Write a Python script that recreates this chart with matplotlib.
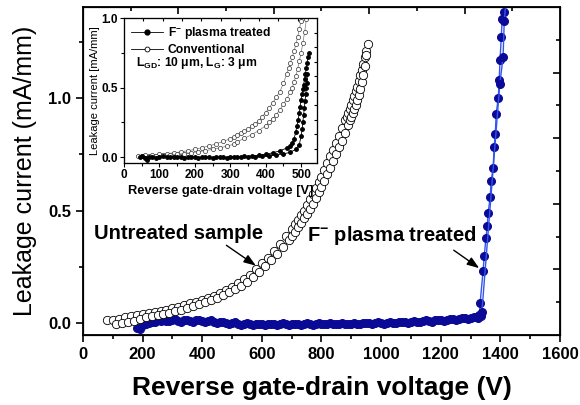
import numpy as np
import matplotlib
matplotlib.use("Agg")
import matplotlib.pyplot as plt

plt.rcParams['font.family'] = ['Liberation Sans', 'DejaVu Sans']
plt.rcParams['mathtext.fontset'] = 'custom'
plt.rcParams['mathtext.rm'] = 'Liberation Sans'
plt.rcParams['mathtext.bf'] = 'Liberation Sans:bold'
plt.rcParams['mathtext.default'] = 'regular'

# ---- main plot data: untreated sample (two sweeps) ----
untr_v1 = [80, 100, 120, 140, 160, 180, 200, 220, 240, 260, 280, 300, 320, 340, 360,
           380, 400, 420, 440, 460, 480, 500, 520, 540, 560, 580, 600, 620, 640, 660,
           680, 700, 710, 720, 730, 740, 750, 760, 770, 780, 790, 800, 810, 820, 830,
           840, 850, 860, 870, 880, 885, 890, 895, 900, 905, 910, 915, 920, 925, 930,
           935, 940, 945, 950, 955]
untr_i1 = [0.012, 0.015, 0.020, 0.025, 0.030, 0.035, 0.040, 0.045, 0.050, 0.055, 0.060,
           0.066, 0.072, 0.080, 0.087, 0.095, 0.103, 0.112, 0.122, 0.133, 0.146, 0.160,
           0.176, 0.195, 0.215, 0.240, 0.265, 0.290, 0.320, 0.350, 0.385, 0.420, 0.440,
           0.460, 0.480, 0.500, 0.525, 0.550, 0.575, 0.600, 0.625, 0.650, 0.680, 0.710,
           0.740, 0.770, 0.800, 0.830, 0.865, 0.900, 0.917, 0.935, 0.952, 0.970, 0.990,
           1.010, 1.030, 1.050, 1.075, 1.100, 1.125, 1.150, 1.180, 1.210, 1.240]
untr_v2 = [110, 130, 150, 170, 190, 210, 230, 250, 270, 290, 310, 330, 350, 370, 390,
           410, 430, 450, 470, 490, 510, 530, 550, 570, 590, 610, 630, 650, 670, 690,
           700, 710, 720, 730, 740, 750, 760, 770, 780, 790, 800, 810, 820, 830, 840,
           850, 860, 870, 880, 890, 895, 900, 905, 910, 915, 920, 925, 930, 935, 940,
           945, 950]
untr_i2 = [-0.005, 0.000, 0.005, 0.010, 0.018, 0.025, 0.030, 0.035, 0.040, 0.046, 0.053,
           0.060, 0.067, 0.075, 0.083, 0.092, 0.101, 0.111, 0.123, 0.136, 0.150, 0.166,
           0.184, 0.205, 0.228, 0.252, 0.278, 0.306, 0.336, 0.370, 0.387, 0.405, 0.425,
           0.445, 0.465, 0.485, 0.508, 0.530, 0.555, 0.580, 0.605, 0.630, 0.660, 0.690,
           0.720, 0.750, 0.780, 0.810, 0.845, 0.880, 0.900, 0.915, 0.932, 0.950, 0.970,
           0.990, 1.015, 1.040, 1.070, 1.100, 1.140, 1.190]

# ---- main plot data: F- plasma treated (two sweeps) ----
trt_v1 = [180, 200, 220, 240, 260, 280, 300, 320, 340, 360, 380, 400, 420, 440, 460,
          480, 500, 520, 540, 560, 580, 600, 620, 640, 660, 680, 700, 720, 740, 760,
          780, 800, 820, 840, 860, 880, 900, 920, 940, 960, 980, 1000, 1020, 1040, 1060,
          1080, 1100, 1120, 1140, 1160, 1180, 1200, 1220, 1240, 1260, 1280, 1300, 1320,
          1330, 1332, 1342, 1346, 1352, 1356, 1359, 1366, 1369, 1376, 1379, 1383, 1386,
          1393, 1396, 1399, 1403, 1406, 1413, 1418]
trt_i1 = [-0.020, -0.008, 0.000, 0.005, 0.010, 0.010, 0.012, 0.010, 0.012, 0.010, 0.012,
          0.008, 0.010, 0.005, 0.004, 0.000, 0.000, -0.004, -0.005, -0.003, -0.005,
          -0.004, -0.006, -0.004, -0.005, -0.004, -0.005, -0.004, -0.003, -0.004, -0.003,
          -0.003, -0.004, -0.003, -0.004, -0.002, -0.003, -0.002, -0.001, 0.000, -0.001,
          0.000, 0.002, 0.001, 0.003, 0.004, 0.005, 0.006, 0.008, 0.010, 0.012, 0.013,
          0.015, 0.017, 0.019, 0.021, 0.024, 0.028, 0.034, 0.089, 0.230, 0.300, 0.380,
          0.430, 0.490, 0.560, 0.630, 0.690, 0.780, 0.840, 0.930, 1.000, 1.080, 1.170,
          1.270, 1.350, 1.380, 1.450]
trt_v2 = [190, 210, 230, 250, 270, 290, 310, 330, 350, 370, 390, 410, 430, 450, 470,
          490, 510, 530, 550, 570, 590, 610, 630, 650, 670, 690, 710, 730, 750, 770,
          790, 810, 830, 850, 870, 890, 910, 930, 950, 970, 990, 1010, 1030, 1050, 1070,
          1090, 1110, 1130, 1150, 1170, 1190, 1210, 1230, 1250, 1270, 1290, 1310, 1325,
          1334, 1338, 1398, 1409, 1413, 1420]
trt_i2 = [-0.025, -0.004, 0.004, 0.012, 0.014, 0.008, 0.016, 0.006, 0.014, 0.006, 0.012,
          0.004, 0.012, 0.000, 0.006, -0.004, 0.004, -0.008, 0.000, -0.008, -0.002,
          -0.009, -0.002, -0.008, -0.001, -0.008, -0.002, -0.007, 0.000, -0.007, 0.000,
          -0.006, 0.000, -0.006, 0.000, -0.005, 0.001, -0.004, 0.002, -0.003, 0.003,
          -0.002, 0.005, 0.000, 0.007, 0.002, 0.009, 0.004, 0.012, 0.007, 0.015, 0.010,
          0.018, 0.014, 0.022, 0.018, 0.026, 0.022, 0.030, 0.050, 1.060, 1.180, 1.340, 1.450]

# ---- inset data ----
conv_v1 = [40, 60, 80, 100, 120, 140, 160, 180, 200, 220, 240, 260, 280, 300, 310, 320,
           330, 340, 350, 360, 370, 380, 390, 400, 410, 420, 430, 440, 450, 460, 465,
           470, 475, 480, 485, 490, 495, 500, 505]
conv_i1 = [0.010, 0.012, 0.016, 0.020, 0.025, 0.030, 0.037, 0.045, 0.055, 0.067, 0.080,
           0.095, 0.112, 0.132, 0.143, 0.155, 0.170, 0.185, 0.200, 0.220, 0.240, 0.260,
           0.290, 0.320, 0.355, 0.390, 0.430, 0.470, 0.530, 0.600, 0.640, 0.680, 0.720,
           0.760, 0.810, 0.860, 0.920, 0.980, 1.050]
conv_v2 = [50, 70, 90, 110, 130, 150, 170, 190, 210, 230, 250, 270, 290, 310, 320, 340,
           360, 380, 400, 410, 420, 430, 440, 450, 460, 470, 475, 480, 485, 490, 495,
           500, 505, 510, 515]
conv_i2 = [0.004, 0.006, 0.009, 0.012, 0.016, 0.020, 0.025, 0.031, 0.038, 0.046, 0.055,
           0.066, 0.078, 0.092, 0.110, 0.135, 0.160, 0.190, 0.225, 0.250, 0.275, 0.305,
           0.340, 0.380, 0.420, 0.470, 0.500, 0.540, 0.580, 0.630, 0.690, 0.750, 0.820,
           0.900, 0.990]
f_v1 = [45, 60, 65, 80, 100, 120, 140, 160, 180, 200, 220, 240, 260, 280, 300, 320, 340,
        360, 380, 400, 420, 440, 460, 470, 475, 480, 485, 488, 492, 495, 497, 500, 502,
        505, 507, 510, 512, 515, 517, 520, 522]
f_i1 = [0.000, -0.010, -0.020, 0.000, 0.002, 0.000, 0.002, 0.000, -0.002, 0.000, -0.003,
        -0.002, -0.003, -0.002, 0.000, 0.002, 0.005, 0.008, 0.012, 0.020, 0.030, 0.045,
        0.065, 0.080, 0.100, 0.130, 0.180, 0.220, 0.270, 0.320, 0.360, 0.410, 0.450,
        0.490, 0.520, 0.560, 0.600, 0.640, 0.680, 0.720, 0.750]
f_v2 = [50, 70, 90, 110, 130, 150, 170, 190, 210, 230, 250, 270, 290, 310, 330, 350, 370,
        390, 410, 430, 450, 470, 485, 495, 500, 503, 505, 507, 509, 511, 513, 515, 516, 518]
f_i2 = [0.005, 0.000, -0.004, 0.004, -0.003, 0.003, -0.004, 0.001, -0.005, -0.002, -0.006,
        -0.003, -0.005, -0.002, -0.003, 0.000, 0.002, 0.004, 0.008, 0.014, 0.022, 0.035,
        0.055, 0.090, 0.150, 0.200, 0.250, 0.300, 0.350, 0.400, 0.450, 0.500, 0.530, 0.600]

fig = plt.figure(figsize=(5.8, 4.05), dpi=100)
ax = fig.add_axes([0.1431, 0.1728, 0.8224, 0.81])

navy = '#0a0a96'
ax.plot(trt_v1, trt_i1, '-o', color='#3355ee', lw=1.0, ms=5.5, mfc=navy, mec=navy, zorder=3)
ax.plot(trt_v2, trt_i2, '-o', color='#3355ee', lw=1.0, ms=5.5, mfc=navy, mec=navy, zorder=3)
ax.plot(untr_v1, untr_i1, '-o', color='#888888', lw=0.5, ms=6, mfc='white', mec='black', mew=0.6, zorder=4)
ax.plot(untr_v2, untr_i2, '-o', color='#888888', lw=0.5, ms=6, mfc='white', mec='black', mew=0.6, zorder=4)

ax.set_xlim(0, 1600)
ax.set_ylim(-0.053, 1.404)
ax.set_xticks(np.arange(0, 1601, 200))
ax.set_xticks(np.arange(100, 1600, 200), minor=True)
ax.set_yticks([0.0, 0.5, 1.0])
ax.set_yticks([0.25, 0.75, 1.25], minor=True)
ax.set_yticklabels(['0.0', '0.5', '1.0'])
ax.tick_params(which='major', direction='out', length=5, width=1.2, labelsize=12)
ax.tick_params(which='minor', direction='out', length=3, width=1.2)
for lab in ax.get_xticklabels() + ax.get_yticklabels():
    lab.set_fontweight('bold')
for s in ax.spines.values():
    s.set_linewidth(1.3)

ax.set_xlabel('Reverse gate-drain voltage (V)', fontsize=19, fontweight='bold', labelpad=10)
ax.set_ylabel('Leakage current (mA/mm)', fontsize=18, labelpad=8)

# opposite axes with their own evenly spaced ticks
axt = ax.twiny()
axt.set_xlim(0, 1)
axt.set_xticks([0.2, 0.4, 0.6, 0.8])
axt.set_xticks([0.1, 0.3, 0.5, 0.7, 0.9], minor=True)
axt.tick_params(which='major', direction='in', length=5, width=1.2, labeltop=False)
axt.tick_params(which='minor', direction='in', length=3, width=1.2)
axr = ax.twinx()
axr.set_ylim(0, 1)
axr.set_yticks([0.2, 0.4, 0.6, 0.8])
axr.set_yticks([0.1, 0.3, 0.5, 0.7, 0.9], minor=True)
axr.tick_params(which='major', direction='in', length=5, width=1.2, labelright=False)
axr.tick_params(which='minor', direction='in', length=3, width=1.2)

arrow = dict(arrowstyle='-|>,head_length=0.5,head_width=0.18', color='black', lw=1.0,
             shrinkA=0, shrinkB=0)
ax.annotate('Untreated sample', xy=(580, 0.255), xytext=(320, 0.40), ha='center', va='center',
            fontsize=14.5, fontweight='bold',
            arrowprops=dict(arrow, relpos=(0.76, 0.0)))
ax.annotate('F$^{-}$ plasma treated', xy=(1329, 0.244), xytext=(1037, 0.387), ha='center',
            va='center', fontsize=14.5, fontweight='bold',
            arrowprops=dict(arrow, relpos=(0.84, 0.0)))

# ---- inset ----
ins = fig.add_axes([0.2138, 0.5975, 0.3328, 0.358])
ins.plot(conv_v1, conv_i1, '-o', color='#777777', lw=0.5, ms=3, mfc='white', mec='#333333', mew=0.5)
ins.plot(conv_v2, conv_i2, '-o', color='#777777', lw=0.5, ms=3, mfc='white', mec='#333333', mew=0.5)
ins.plot(f_v1, f_i1, '-o', color='black', lw=0.6, ms=2.5, mfc='black', mec='black')
ins.plot(f_v2, f_i2, '-o', color='black', lw=0.6, ms=2.5, mfc='black', mec='black')
ins.set_xlim(0, 545)
ins.set_ylim(-0.043, 1.0)
ins.set_xticks(np.arange(0, 501, 100))
ins.set_xticks(np.arange(50, 545, 100), minor=True)
ins.set_yticks([0.0, 0.5, 1.0])
ins.set_yticks([0.25, 0.75], minor=True)
ins.set_yticklabels(['0.0', '0.5', '1.0'])
ins.tick_params(which='major', direction='out', length=3, width=0.8, labelsize=8.5, pad=1.5)
ins.tick_params(which='minor', direction='out', length=2, width=0.8)
for lab in ins.get_xticklabels() + ins.get_yticklabels():
    lab.set_fontweight('bold')
for s in ins.spines.values():
    s.set_linewidth(0.8)
ins.set_xlabel('Reverse gate-drain voltage [V]', fontsize=9.3, fontweight='bold', labelpad=3)
ins.set_ylabel('Leakage current [mA/mm]', fontsize=8, labelpad=1)

inst = ins.twiny()
inst.set_xlim(0, 1)
inst.set_xticks(np.arange(0.1, 1.0, 0.1))
inst.tick_params(direction='in', length=2, width=0.8, labeltop=False)
insr = ins.twinx()
insr.set_ylim(0, 1)
insr.set_yticks(np.arange(0.1, 1.0, 0.1))
insr.tick_params(direction='in', length=2, width=0.8, labelright=False)

h1, = ins.plot([], [], '-o', color='black', lw=0.6, ms=3.5, mfc='black')
h2, = ins.plot([], [], '-o', color='black', lw=0.6, ms=3.5, mfc='white', mew=0.6)
leg = ins.legend([h1, h2], ['F$^{-}$ plasma treated', 'Conventional'], loc='upper left',
                 frameon=False, handlelength=2.6, borderaxespad=0.2, labelspacing=0.25,
                 handletextpad=0.4, prop={'size': 8.7, 'weight': 'bold'})
ins.text(0.06, 0.69, 'L$_{GD}$: 10 \u03bcm, L$_{G}$: 3 \u03bcm', transform=ins.transAxes,
         fontsize=8.7, fontweight='bold', va='center')

fig.savefig('out.png', dpi=100)
